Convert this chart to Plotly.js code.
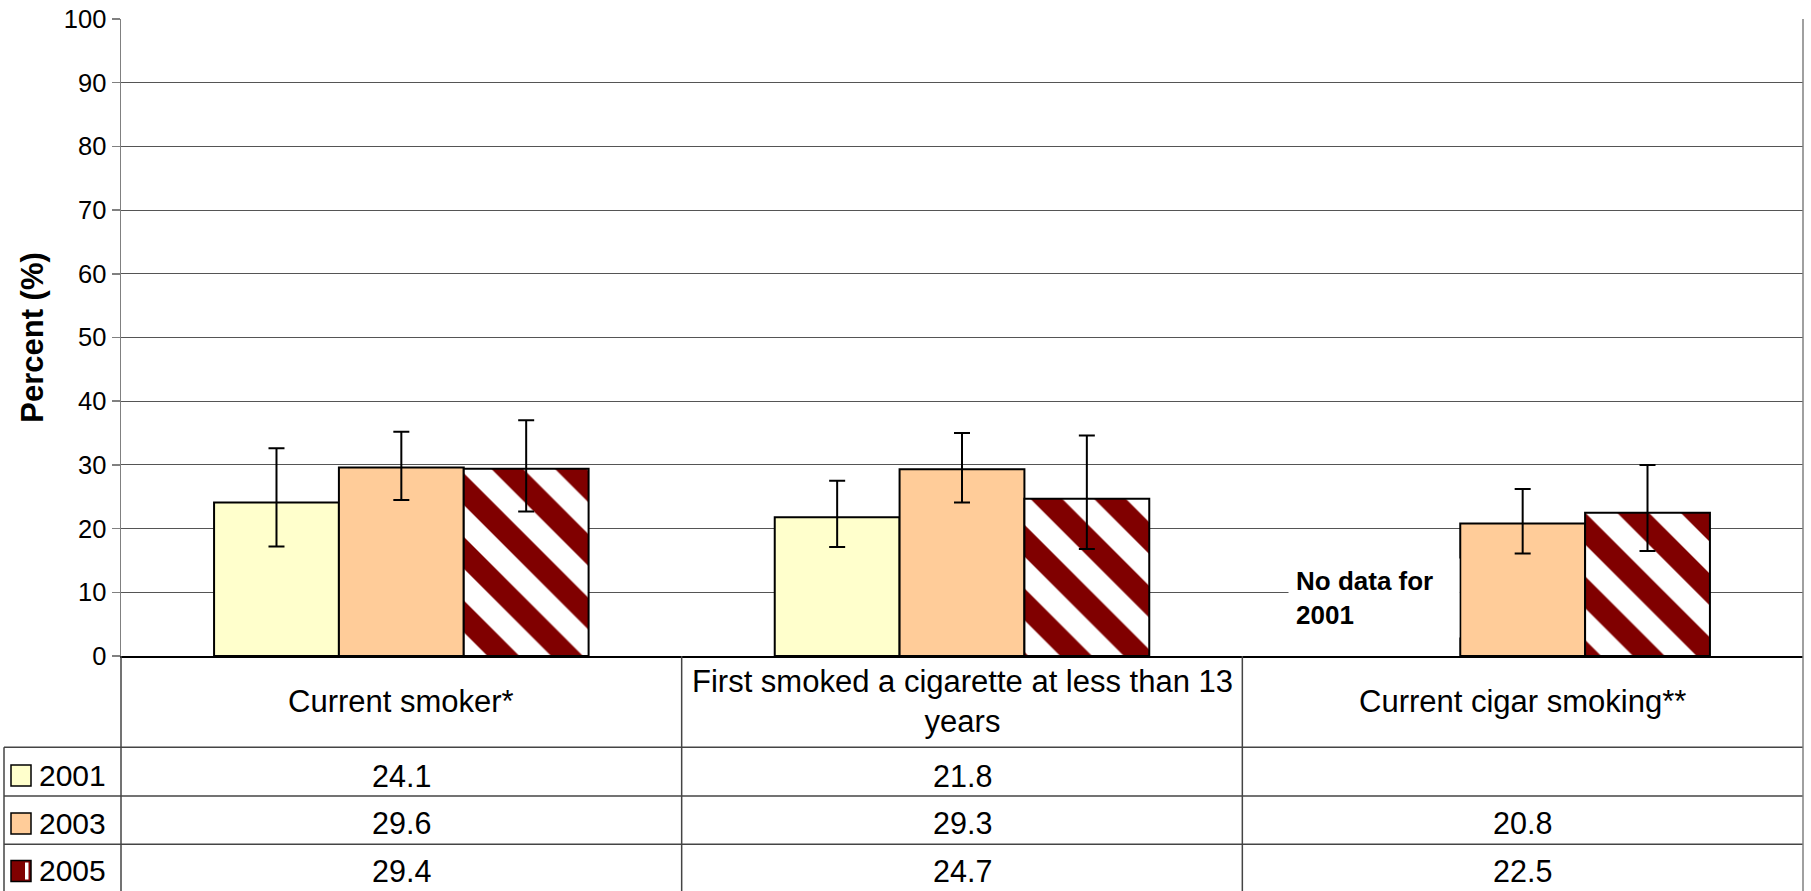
<!DOCTYPE html>
<html>
<head>
<meta charset="utf-8">
<script src="https://cdn.plot.ly/plotly-3.0.1.min.js"></script>
<style>html,body{margin:0;padding:0;background:#fff;}#chart{width:1811px;height:891px;}</style>
</head>
<body>
<div id="chart"></div>
<script>
// ---- data ----
const categories = ['Current smoker*', 'First smoked a cigarette at less than 13 years', 'Current cigar smoking**'];
const categoryLabels = ['Current smoker*', 'First smoked a cigarette at less than 13<br>years', 'Current cigar smoking**'];
const years = ['2001', '2003', '2005'];
const values2001 = [24.1, 21.8, null];
const values2003 = [29.6, 29.3, 20.8];
const values2005 = [29.4, 24.7, 22.5];
const upper2001 = [32.6, 27.5, null];
const lower2001 = [17.2, 17.1, null];
const upper2003 = [35.2, 35.0, 26.2];
const lower2003 = [24.5, 24.1, 16.1];
const upper2005 = [37.0, 34.6, 30.0];
const lower2005 = [22.7, 16.8, 16.5];
const noDataNote = 'No data for<br>2001';
const yTitle = 'Percent (%)';

// ---- styling ----
const FONT = 'Liberation Sans, Arial, Helvetica, sans-serif';
const W = 1811, H = 891;
const M = {l: 121, r: 8, t: 19, b: 235};
const PW = W - M.l - M.r, PH = H - M.t - M.b;
const px2x = p => (p - M.l) / PW;
const py2y = p => (H - M.b - p) / PH;

function errs(vals, up, lo) {
  return {
    type: 'data', symmetric: false,
    array: vals.map((v, i) => v == null ? null : +(up[i] - v).toFixed(2)),
    arrayminus: vals.map((v, i) => v == null ? null : +(v - lo[i]).toFixed(2)),
    color: '#000', thickness: 2, width: 8
  };
}

const traces = [
  {type: 'bar', name: years[0], x: categories, y: values2001,
   marker: {color: '#FFFFCC', line: {color: '#000', width: 2}},
   error_y: errs(values2001, upper2001, lower2001), hoverinfo: 'skip'},
  {type: 'bar', name: years[1], x: categories, y: values2003,
   marker: {color: '#FFCC99', line: {color: '#000', width: 2}},
   error_y: errs(values2003, upper2003, lower2003), hoverinfo: 'skip'},
  {type: 'bar', name: years[2], x: categories, y: values2005,
   marker: {color: '#FFFFFF', line: {color: '#000', width: 2},
            pattern: {shape: '\\', fgcolor: '#800000', bgcolor: '#FFFFFF', size: 45, solidity: 0.5, fillmode: 'replace'}},
   error_y: errs(values2005, upper2005, lower2005), hoverinfo: 'skip'}
];

// ---- table (drawn below plot) ----
const lineC = '#444';
const shapes = [];
const rowLines = [747.3, 796, 844.3];
rowLines.forEach(p => shapes.push({type: 'line', xref: 'paper', yref: 'paper',
  x0: px2x(4), x1: 1, y0: py2y(p), y1: py2y(p), line: {color: lineC, width: 1.5}}));
[0, 1/3, 2/3].forEach(x => shapes.push({type: 'line', xref: 'paper', yref: 'paper',
  x0: x, x1: x, y0: 0, y1: py2y(H), line: {color: lineC, width: 1.5}}));
shapes.push({type: 'line', xref: 'paper', yref: 'paper', x0: 1, x1: 1, y0: 1, y1: py2y(H),
  line: {color: '#808080', width: 1.5}});
shapes.push({type: 'line', xref: 'paper', yref: 'paper', x0: px2x(4), x1: px2x(4), y0: py2y(747.3), y1: py2y(H),
  line: {color: lineC, width: 1.5}});

const rowCenters = [775.5, 823.5, 871];
const swatchFill = ['#FFFFCC', '#FFCC99', '#800000'];
rowCenters.forEach((c, i) => {
  shapes.push({type: 'rect', xref: 'paper', yref: 'paper', x0: px2x(11), x1: px2x(31),
    y0: py2y(c - 10.5), y1: py2y(c + 10.5), fillcolor: swatchFill[i], line: {color: '#000', width: 1.5}});
  if (i === 2) {
    shapes.push({type: 'rect', xref: 'paper', yref: 'paper', x0: px2x(25), x1: px2x(28.5),
      y0: py2y(c - 8.5), y1: py2y(c + 8.5), fillcolor: '#FFFFFF', line: {width: 0}});
  }
});

const annotations = [];
const catCenters = [1/6, 1/2, 5/6];
categoryLabels.forEach((t, i) => annotations.push({xref: 'paper', yref: 'paper', x: catCenters[i], y: py2y(701.5),
  text: t, showarrow: false, xanchor: 'center', yanchor: 'middle', align: 'center',
  font: {family: FONT, size: 31, color: '#000'}}));
const seriesVals = [values2001, values2003, values2005];
seriesVals.forEach((vals, r) => {
  annotations.push({xref: 'paper', yref: 'paper', x: px2x(37), y: py2y(rowCenters[r]), text: years[r],
    showarrow: false, xanchor: 'left', yanchor: 'middle', font: {family: FONT, size: 30, color: '#000'}});
  vals.forEach((v, i) => {
    if (v == null) return;
    annotations.push({xref: 'paper', yref: 'paper', x: catCenters[i], y: py2y(rowCenters[r]), text: v.toFixed(1),
      showarrow: false, xanchor: 'center', yanchor: 'middle', font: {family: FONT, size: 30.5, color: '#000'}});
  });
});
annotations.push({xref: 'paper', yref: 'y', x: px2x(1288), y: 9.1, text: '<b>' + noDataNote + '</b>',
  showarrow: false, xanchor: 'left', yanchor: 'middle', align: 'left', bgcolor: '#FFFFFF', borderpad: 7,
  width: 156, font: {family: FONT, size: 26, color: '#000'}});

const layout = {
  width: W, height: H,
  margin: M,
  paper_bgcolor: '#FFFFFF', plot_bgcolor: '#FFFFFF',
  font: {family: FONT, color: '#000'},
  showlegend: false,
  barmode: 'group', bargap: 0.332, bargroupgap: 0,
  xaxis: {type: 'category', range: [-0.5, 2.5], showticklabels: false, ticks: '', showgrid: false,
          showline: true, linecolor: '#000', linewidth: 2, zeroline: false, fixedrange: true},
  yaxis: {range: [0, 100], dtick: 10, tick0: 0, ticks: 'outside', ticklen: 8, tickwidth: 1.5, tickcolor: '#808080',
          showline: true, linecolor: '#808080', linewidth: 1.5, showgrid: true, gridcolor: '#555', gridwidth: 1,
          zeroline: false, fixedrange: true, tickfont: {family: FONT, size: 25.5, color: '#000'},
          title: {text: '<b>' + yTitle + '</b>', font: {family: FONT, size: 31, color: '#000'}, standoff: 11}},
  shapes: shapes,
  annotations: annotations
};

Plotly.newPlot('chart', traces, layout, {displayModeBar: false, staticPlot: true});
</script>
</body>
</html>
